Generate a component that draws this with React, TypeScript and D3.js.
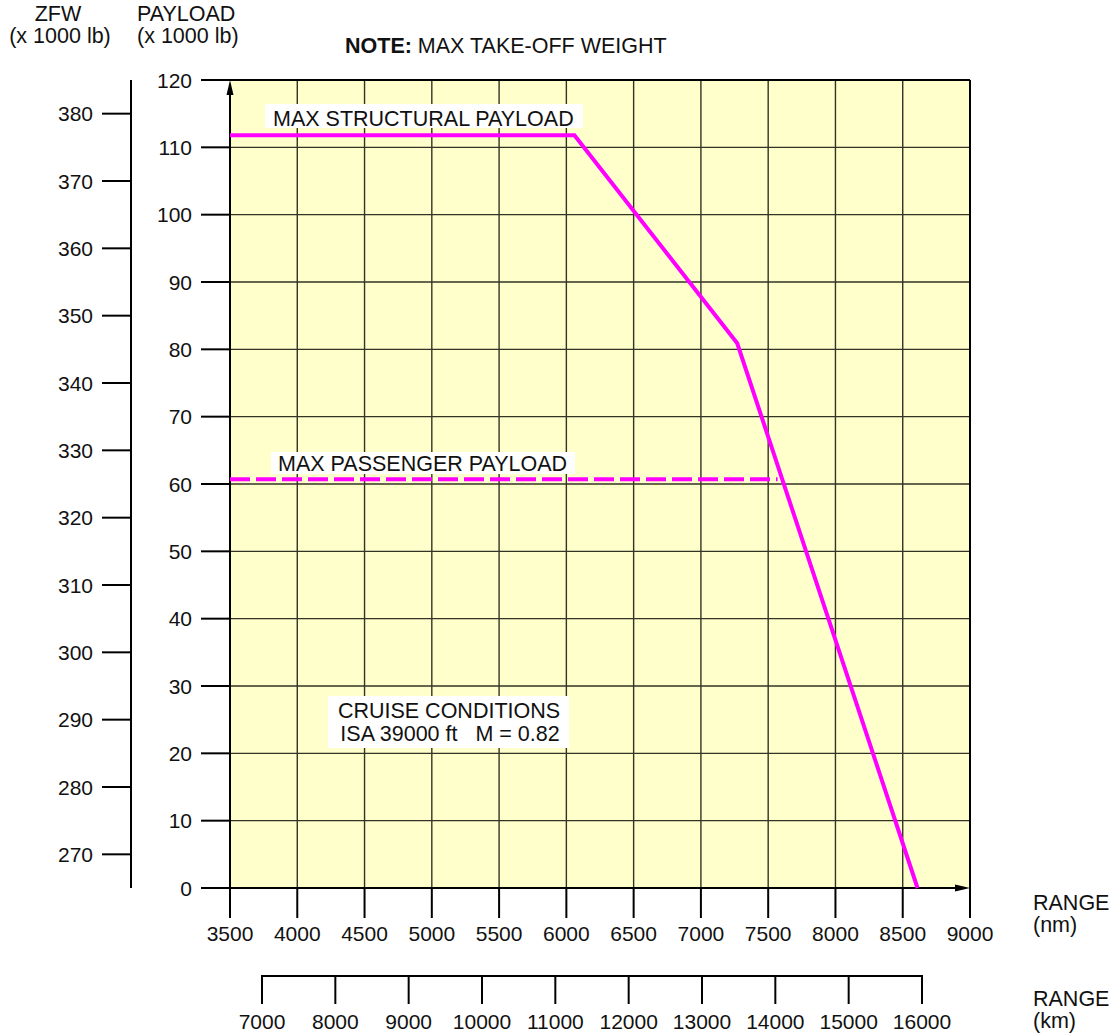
import * as d3 from "d3";
import React, { useRef, useEffect } from "react";

// payload axis (x 1000 lb)
const payloadTicks = [0, 10, 20, 30, 40, 50, 60, 70, 80, 90, 100, 110, 120];
// ZFW axis (x 1000 lb), ZFW = payload + 265
const zfwTicks = [270, 280, 290, 300, 310, 320, 330, 340, 350, 360, 370, 380];
const ZFW_AT_ZERO_PAYLOAD = 265;
// range axes
const nmTicks = [3500, 4000, 4500, 5000, 5500, 6000, 6500, 7000, 7500, 8000, 8500, 9000];
const kmTicks = [7000, 8000, 9000, 10000, 11000, 12000, 13000, 14000, 15000, 16000];

// MAX STRUCTURAL PAYLOAD / MTOW limit curve
const structRange = [3500, 6060, 7270, 8610];
const structPayload = [111.8, 111.8, 80.9, 0];

// MAX PASSENGER PAYLOAD
const paxRange = [3500, 7570];
const paxPayload = [60.7, 60.7];

const FONT = "'Liberation Sans', Arial, Helvetica, sans-serif";
const FONT_SIZE = 21.5;
const MAGENTA = "#ff00ff";

export default function App() {
  const svgRef = useRef<SVGSVGElement | null>(null);

  useEffect(() => {
    document.body.style.margin = "0";
    if (!svgRef.current) return;
    const svg = d3.select(svgRef.current);
    svg.selectAll("*").remove();

    const x = d3.scaleLinear().domain([3500, 9000]).range([230, 970]);
    const y = d3.scaleLinear().domain([0, 120]).range([888, 80]);
    const xKm = d3.scaleLinear().domain([7000, 16000]).range([262, 922]);

    const x0 = x(3500);
    const x1 = x(9000);
    const y0 = y(0);
    const y1 = y(120);

    // plot background
    svg
      .append("rect")
      .attr("x", x0)
      .attr("y", y1)
      .attr("width", x1 - x0)
      .attr("height", y0 - y1)
      .attr("fill", "#ffffcc");

    // grid
    const grid = svg.append("g").attr("stroke", "#333326").attr("stroke-width", 1.4);
    nmTicks.slice(1, -1).forEach((d) => {
      grid.append("line").attr("x1", x(d)).attr("x2", x(d)).attr("y1", y1).attr("y2", y0);
    });
    payloadTicks.slice(1, -1).forEach((d) => {
      grid.append("line").attr("x1", x0).attr("x2", x1).attr("y1", y(d)).attr("y2", y(d));
    });

    const axes = svg.append("g").attr("stroke", "#000").attr("stroke-width", 2);

    // top & right border
    axes.append("line").attr("x1", 201).attr("x2", x1).attr("y1", y1).attr("y2", y1);
    axes.append("line").attr("x1", x1).attr("x2", x1).attr("y1", y1).attr("y2", y0 + 30);

    // payload axis
    axes.append("line").attr("x1", x0).attr("x2", x0).attr("y1", y0 + 30).attr("y2", y1 + 10);
    payloadTicks.forEach((d) => {
      axes.append("line").attr("x1", 201).attr("x2", x0).attr("y1", y(d)).attr("y2", y(d));
    });
    svg
      .append("path")
      .attr("d", `M${x0},${y1} L${x0 - 3.5},${y1 + 15} L${x0 + 3.5},${y1 + 15} Z`)
      .attr("fill", "#000");

    // range (nm) axis
    axes.append("line").attr("x1", 201).attr("x2", x1 - 10).attr("y1", y0).attr("y2", y0);
    nmTicks.forEach((d) => {
      axes.append("line").attr("x1", x(d)).attr("x2", x(d)).attr("y1", y0).attr("y2", y0 + 30);
    });
    svg
      .append("path")
      .attr("d", `M${x1},${y0} L${x1 - 15},${y0 - 3.5} L${x1 - 15},${y0 + 3.5} Z`)
      .attr("fill", "#000");

    // ZFW axis
    const zfwX = 131;
    axes.append("line").attr("x1", zfwX).attr("x2", zfwX).attr("y1", y1).attr("y2", y0);
    zfwTicks.forEach((d) => {
      const yy = y(d - ZFW_AT_ZERO_PAYLOAD);
      axes.append("line").attr("x1", 102).attr("x2", zfwX).attr("y1", yy).attr("y2", yy);
    });

    // range (km) axis
    const kmY = 976;
    axes
      .append("line")
      .attr("x1", xKm(7000))
      .attr("x2", xKm(16000))
      .attr("y1", kmY)
      .attr("y2", kmY)
      .attr("stroke-linecap", "square");
    kmTicks.forEach((d) => {
      axes.append("line").attr("x1", xKm(d)).attr("x2", xKm(d)).attr("y1", kmY).attr("y2", kmY + 28);
    });

    // curves
    const line = d3
      .line<[number, number]>()
      .x((d) => x(d[0]))
      .y((d) => y(d[1]));

    svg
      .append("path")
      .attr("d", line(structRange.map((r, i) => [r, structPayload[i]]))!)
      .attr("fill", "none")
      .attr("stroke", MAGENTA)
      .attr("stroke-width", 4)
      .attr("stroke-linejoin", "miter");

    svg
      .append("path")
      .attr("d", line(paxRange.map((r, i) => [r, paxPayload[i]]))!)
      .attr("fill", "none")
      .attr("stroke", MAGENTA)
      .attr("stroke-width", 4)
      .attr("stroke-dasharray", "20,6");

    // text helper
    const text = (tx: number, ty: number, s: string, anchor = "start", size = FONT_SIZE) =>
      svg
        .append("text")
        .attr("x", tx)
        .attr("y", ty)
        .attr("text-anchor", anchor)
        .attr("font-family", FONT)
        .attr("font-size", size)
        .attr("fill", "#111")
        .style("white-space", "pre")
        .text(s);

    // tick labels
    payloadTicks.forEach((d) => text(192, y(d) + 7.5, String(d), "end", 21));
    zfwTicks.forEach((d) => text(93, y(d - ZFW_AT_ZERO_PAYLOAD) + 7.5, String(d), "end", 21));
    nmTicks.forEach((d) => text(x(d), 941, String(d), "middle", 21));
    kmTicks.forEach((d) => text(xKm(d), 1029, String(d), "middle", 21));

    // axis titles
    text(58, 21, "ZFW", "middle");
    text(60, 43, "(x 1000 lb)", "middle");
    text(137, 21, "PAYLOAD");
    text(137, 43, "(x 1000 lb)");
    text(1033, 910, "RANGE");
    text(1033, 932, "(nm)");
    text(1033, 1006, "RANGE");
    text(1033, 1028, "(km)");

    const note = svg
      .append("text")
      .attr("x", 345)
      .attr("y", 53)
      .attr("font-family", FONT)
      .attr("font-size", FONT_SIZE)
      .attr("fill", "#111");
    note.append("tspan").attr("font-weight", "bold").text("NOTE:");
    note.append("tspan").text(" MAX TAKE-OFF WEIGHT");

    // boxed annotations
    const boxed = (
      bx: number,
      by: number,
      bw: number,
      bh: number,
      lines: [number, number, string, string][],
    ) => {
      svg
        .append("rect")
        .attr("x", bx)
        .attr("y", by)
        .attr("width", bw)
        .attr("height", bh)
        .attr("fill", "#fff");
      lines.forEach(([tx, ty, s, a]) => text(tx, ty, s, a));
    };

    boxed(265, 104, 318, 24, [[273, 125.5, "MAX STRUCTURAL PAYLOAD", "start"]]);
    boxed(271, 452, 304, 22, [[278, 470.5, "MAX PASSENGER PAYLOAD", "start"]]);
    boxed(328, 696, 241, 52, [
      [449, 718, "CRUISE CONDITIONS", "middle"],
      [450, 741, "ISA 39000 ft   M = 0.82", "middle"],
    ]);
  }, []);

  return <svg ref={svgRef} width={1114} height={1035} style={{ display: "block", background: "#fff" }} />;
}
